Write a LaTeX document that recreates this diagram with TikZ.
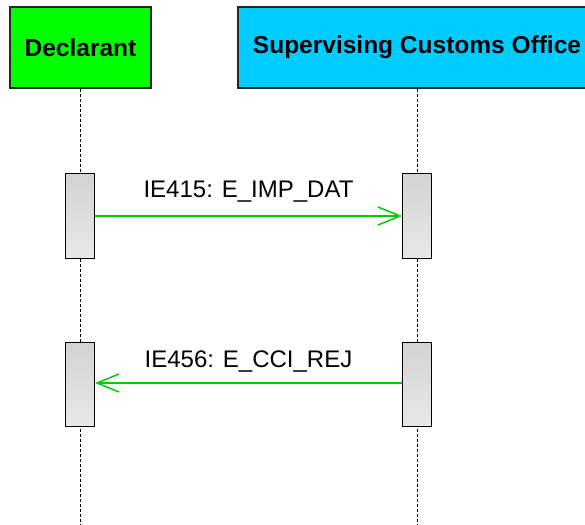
\documentclass[tikz,border=0pt]{standalone}
\usepackage{fontspec}
\setmainfont{Liberation Sans}
\usetikzlibrary{arrows.meta, positioning}
\definecolor{actorgreen}{RGB}{0,255,0}
\definecolor{actorblue}{RGB}{0,204,255}
\definecolor{msggreen}{RGB}{0,204,0}
\tikzset{
  actor/.style={draw=black!85, line width=1.2pt, minimum height=81pt, inner sep=0pt,
    font=\fontsize{24.5}{28}\selectfont\bfseries},
  lifeline/.style={dash pattern=on 3pt off 2pt, line width=0.8pt},
  activation/.style={draw, line width=1pt, top color=black!17, bottom color=black!9,
    minimum width=29pt, minimum height=85pt, inner sep=0pt},
  msg/.style={msggreen, line width=1.5pt, -{Straight Barb[length=22pt,width=18pt]}},
  msglabel/.style={midway, anchor=base, black, font=\fontsize{24}{28}\selectfont}
}

\begin{document}
\begin{tikzpicture}[x=1pt, y=-1pt]
  \useasboundingbox (0,0) rectangle (585,524);
  % actors
  \node[actor, fill=actorgreen, minimum width=141pt] (decl) at (80.5,47.5) {Declarant};
  \node[actor, fill=actorblue, minimum width=358pt] (sco) at (417,47.5) {Supervising Customs Office};
  % lifelines
  \coordinate (declend) at (80,524);
  \coordinate (scoend) at (417,524);
  \draw[lifeline] (decl.south -| declend) -- (declend);
  \draw[lifeline] (sco.south -| scoend) -- (scoend);
  % activations
  \node[activation] (declA) at (80,216) {};
  \node[activation] (scoA) at (417,216) {};
  \node[activation, minimum height=84pt] (declB) at (80,384) {};
  \node[activation, minimum height=84pt] (scoB) at (417,384) {};
  % messages
  \draw[msg] (declA.east) -- (scoA.west) node[msglabel, yshift=19pt] {IE415: E\_IMP\_DAT};
  \draw[msg] ([yshift=1pt]scoB.west) -- ([yshift=1pt]declB.east) node[msglabel, yshift=16pt] {IE456: E\_CCI\_REJ};
\end{tikzpicture}
\end{document}
